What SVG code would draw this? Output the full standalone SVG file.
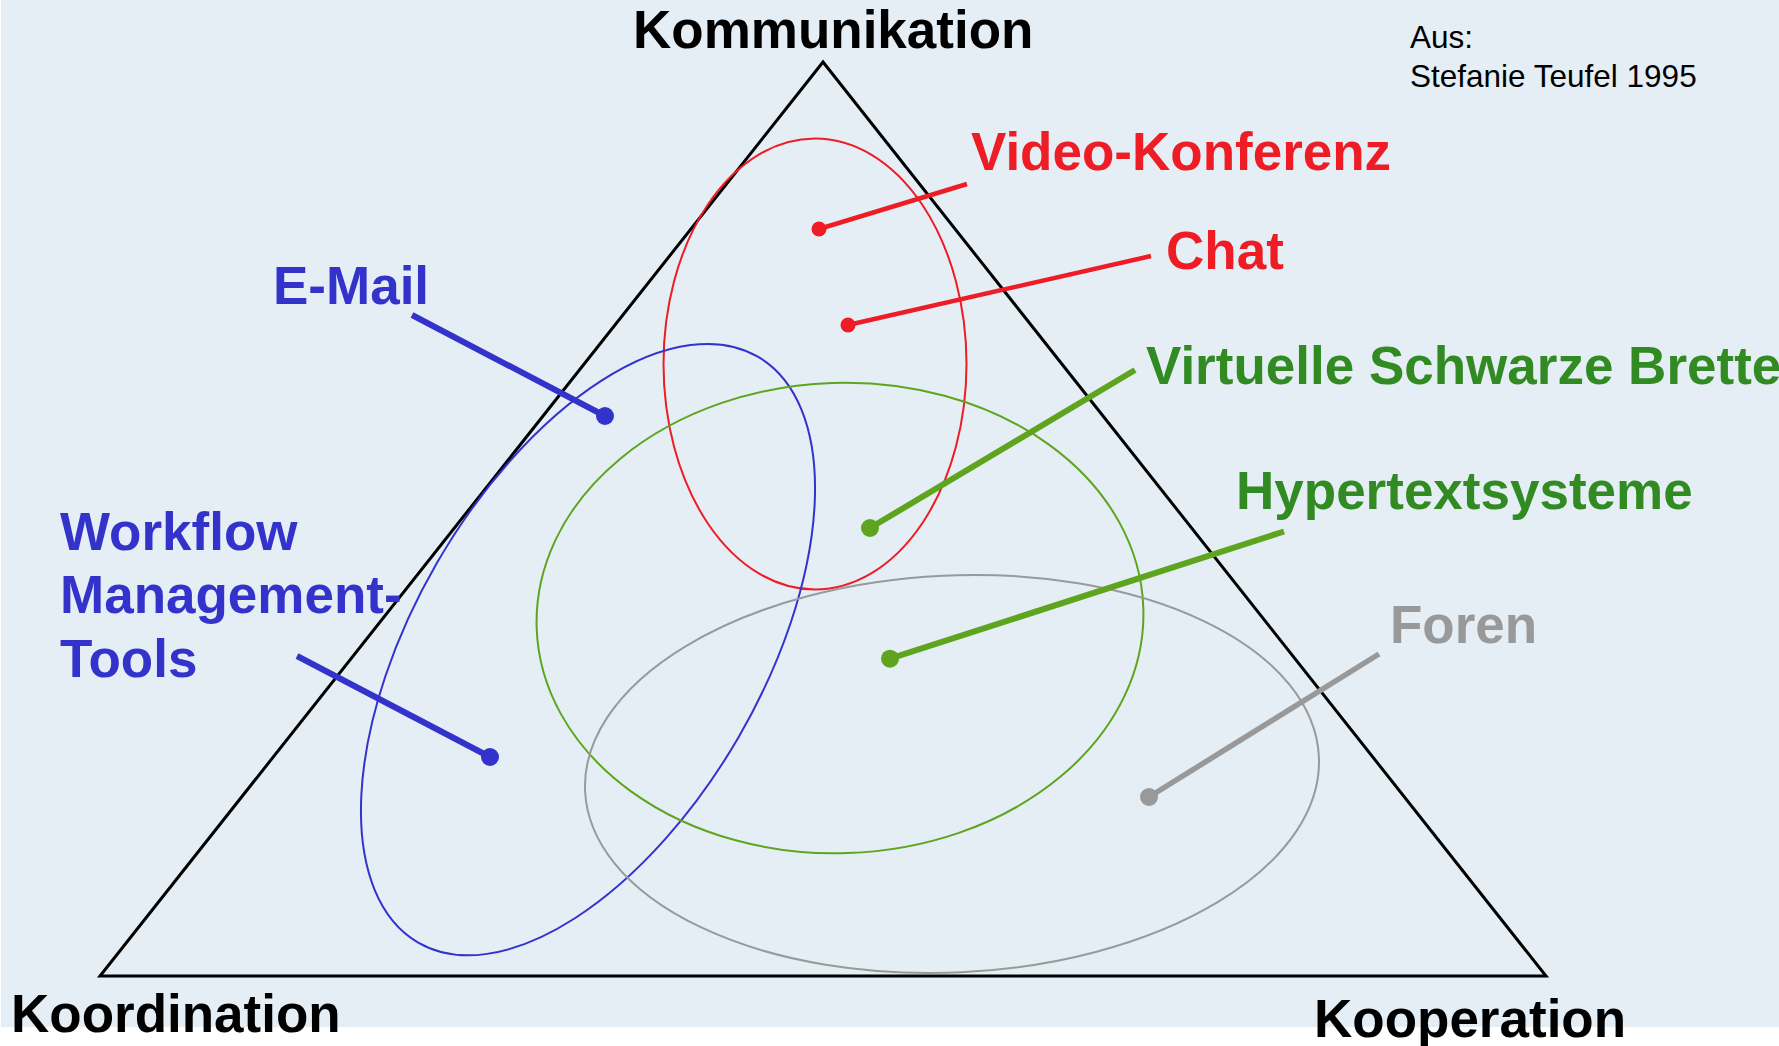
<svg xmlns="http://www.w3.org/2000/svg" width="1779" height="1046" viewBox="0 0 1779 1046">
<style>
.lbl{font-family:"Liberation Sans",Arial,sans-serif;font-weight:bold;font-size:53px}
.axis{fill:#000}
.src{font-family:"Liberation Sans",Arial,sans-serif;font-size:31.5px;fill:#000}
.red{fill:#EE1C25}.blue{fill:#3333CC}.green{fill:#318B22}.grey{fill:#999999}
.ell{fill:none;stroke-width:2}
.lead{fill:none;stroke-linecap:butt}
</style>
<rect x="0" y="0" width="1779" height="1046" fill="#ffffff"/>
<rect x="1" y="0" width="1778" height="1027" fill="#E4EEF4"/>
<g id="triangle">
<polygon points="823,62 100,976 1546,976" fill="none" stroke="#000" stroke-width="3" stroke-linejoin="miter"/>
</g>
<g id="area-video-chat"><ellipse class="ell" cx="815" cy="364" rx="151.5" ry="225.5" stroke="#EE1C25"/></g>
<g id="area-email-workflow"><ellipse class="ell" cx="588" cy="649.6" rx="338.6" ry="174.2" transform="rotate(-59.9 588 649.6)" stroke="#3333CC"/></g>
<g id="area-green"><ellipse class="ell" cx="840" cy="618" rx="303.5" ry="235.2" transform="rotate(-1.9 840 618)" stroke="#5EA41E"/></g>
<g id="area-foren"><ellipse class="ell" cx="952" cy="774" rx="367.3" ry="198.5" transform="rotate(-2.7 952 774)" stroke="#999999"/></g>
<g id="connectors">
<line class="lead" x1="819" y1="229" x2="967" y2="184" stroke="#EE1C25" stroke-width="4.5"/>
<line class="lead" x1="848" y1="325" x2="1151" y2="256" stroke="#EE1C25" stroke-width="4.5"/>
<line class="lead" x1="412" y1="315" x2="605" y2="416" stroke="#3333CC" stroke-width="6"/>
<line class="lead" x1="297" y1="656" x2="490" y2="757" stroke="#3333CC" stroke-width="6"/>
<line class="lead" x1="870" y1="528" x2="1135" y2="370" stroke="#5EA41E" stroke-width="6"/>
<line class="lead" x1="890" y1="658.7" x2="1284" y2="531.5" stroke="#5EA41E" stroke-width="6"/>
<line class="lead" x1="1149" y1="797" x2="1379" y2="654" stroke="#999999" stroke-width="5.5"/>
</g>
<g id="node-kommunikation"><text class="lbl axis" x="633" y="48">Kommunikation</text></g>
<g id="node-koordination"><text class="lbl axis" x="11" y="1032">Koordination</text></g>
<g id="node-kooperation"><text class="lbl axis" x="1314" y="1037">Kooperation</text></g>
<g id="node-source"><text class="src" x="1410" y="48">Aus:</text><text class="src" x="1410" y="87">Stefanie Teufel 1995</text></g>
<g id="node-video-konferenz"><circle cx="819" cy="229" r="7.5" fill="#EE1C25"/><text class="lbl red" x="971" y="170">Video-Konferenz</text></g>
<g id="node-chat"><circle cx="848" cy="325" r="7.5" fill="#EE1C25"/><text class="lbl red" x="1166" y="269">Chat</text></g>
<g id="node-email"><circle cx="605" cy="416" r="9" fill="#3333CC"/><text class="lbl blue" x="273" y="304">E-Mail</text></g>
<g id="node-workflow"><circle cx="490" cy="757" r="9" fill="#3333CC"/><text class="lbl blue" x="60" y="550">Workflow</text><text class="lbl blue" x="60" y="613">Management-</text><text class="lbl blue" x="60" y="677">Tools</text></g>
<g id="node-virtuelle"><circle cx="870" cy="528" r="9" fill="#5EA41E"/><text class="lbl green" x="1146" y="384">Virtuelle Schwarze Bretter</text></g>
<g id="node-hypertext"><circle cx="890" cy="658.7" r="9" fill="#5EA41E"/><text class="lbl green" x="1236" y="509">Hypertextsysteme</text></g>
<g id="node-foren"><circle cx="1149" cy="797" r="9" fill="#999999"/><text class="lbl grey" x="1390" y="643">Foren</text></g>
</svg>
